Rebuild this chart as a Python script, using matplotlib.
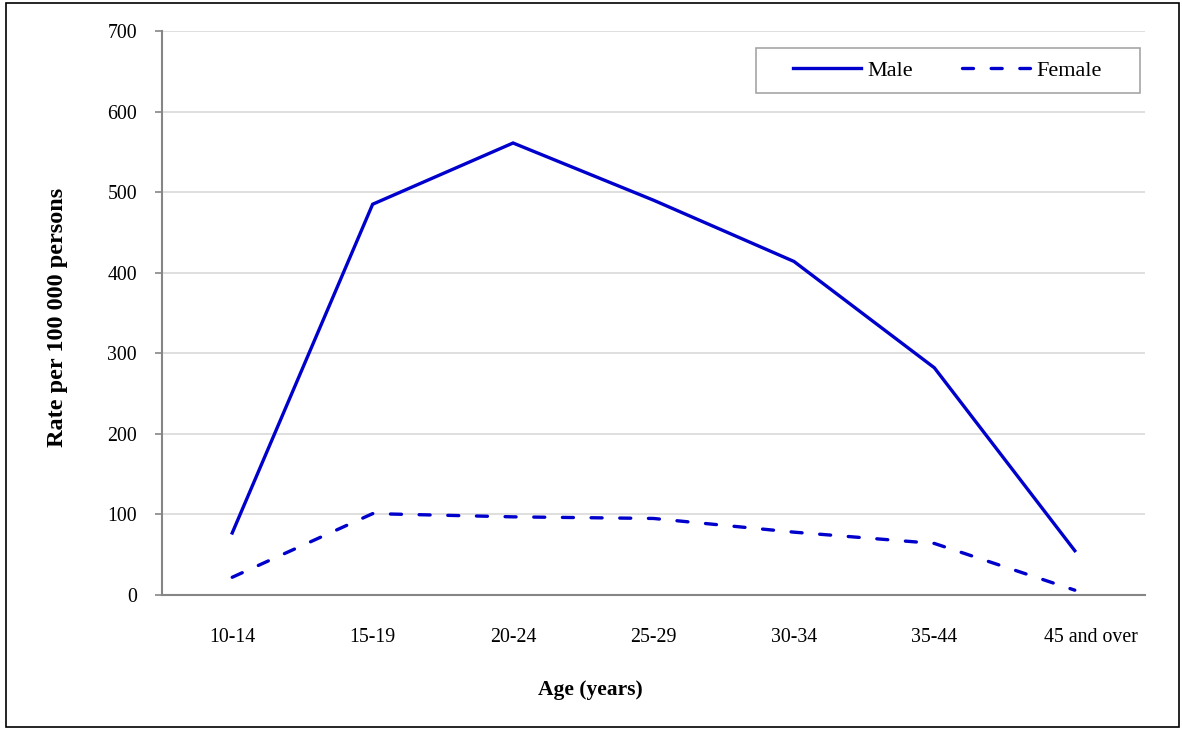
import matplotlib
matplotlib.use("Agg")
import matplotlib.pyplot as plt
from matplotlib.patches import Rectangle
from matplotlib.transforms import ScaledTranslation

categories = ["10-14", "15-19", "20-24", "25-29", "30-34", "35-44", "45 and over"]
male = [77, 485, 561, 490, 414, 282, 55]
female = [22, 101, 97, 95, 78, 64, 6]
y_ticks = [0, 100, 200, 300, 400, 500, 600, 700]

plt.rcParams['font.family'] = ['Liberation Serif', 'DejaVu Serif']

W, H = 1182, 730
fig = plt.figure(figsize=(W / 100, H / 100), dpi=100)
ax = fig.add_axes([162 / W, 1 - 595 / H, (1145 - 162) / W, (595 - 31) / H])

blue = '#0000CC'
x = list(range(len(categories)))
ax.plot(x, male, color=blue, lw=2.4, label='Male', solid_joinstyle='miter')
ax.plot(x, female, color=blue, lw=2.4, label='Female',
        dashes=(3.3, 5.3), dash_capstyle='round')

ax.set_xlim(-0.5, len(categories) - 0.5)
ax.set_ylim(0, 700)
ax.set_yticks(y_ticks)
ax.set_yticklabels([str(v) for v in y_ticks])
ax.set_xticks(x)
ax.set_xticklabels(categories)

ax.grid(axis='y', color='#d9d9d9', lw=1.2)
ax.set_axisbelow(True)
for s in ['top', 'right']:
    ax.spines[s].set_visible(False)
for s in ['left', 'bottom']:
    ax.spines[s].set_color('#868686')
    ax.spines[s].set_linewidth(1.5)

ax.tick_params(axis='y', length=5, width=1.2, color='#868686', pad=13, labelsize=14.3)
ax.tick_params(axis='x', length=0, pad=24, labelsize=14.3)

# last category label sits a little right of its point in the reference
last = ax.get_xticklabels()[-1]
last.set_transform(last.get_transform() + ScaledTranslation(16 / 100, 0, fig.dpi_scale_trans))

fig.text(57 / W, 1 - 317 / H, 'Rate per 100 000 persons', rotation=90,
         ha='center', va='center', fontsize=17.5, fontweight='bold')
fig.text(590 / W, 1 - 690 / H, 'Age (years)', ha='center', va='center',
         fontsize=15.5, fontweight='bold')

leg = fig.legend(*ax.get_legend_handles_labels(), loc='center left',
                 bbox_to_anchor=(793 / W, 1 - 70.5 / H),
                 ncol=2, frameon=False, fontsize=16,
                 handlelength=3.05, handletextpad=0.3, columnspacing=2.2,
                 borderpad=0, borderaxespad=0)

fig.patches.append(Rectangle((756 / W, 1 - 93 / H), (1140 - 756) / W, (93 - 48) / H,
                             transform=fig.transFigure, fill=True, facecolor='white',
                             edgecolor='#a6a6a6', lw=1.2, zorder=2))
leg.set_zorder(3)

fig.patches.append(Rectangle((6 / W, 3 / H), (1179 - 6) / W, (727 - 3) / H,
                             transform=fig.transFigure, fill=False,
                             edgecolor='black', lw=1.2))

fig.savefig('out.png', dpi=100)
